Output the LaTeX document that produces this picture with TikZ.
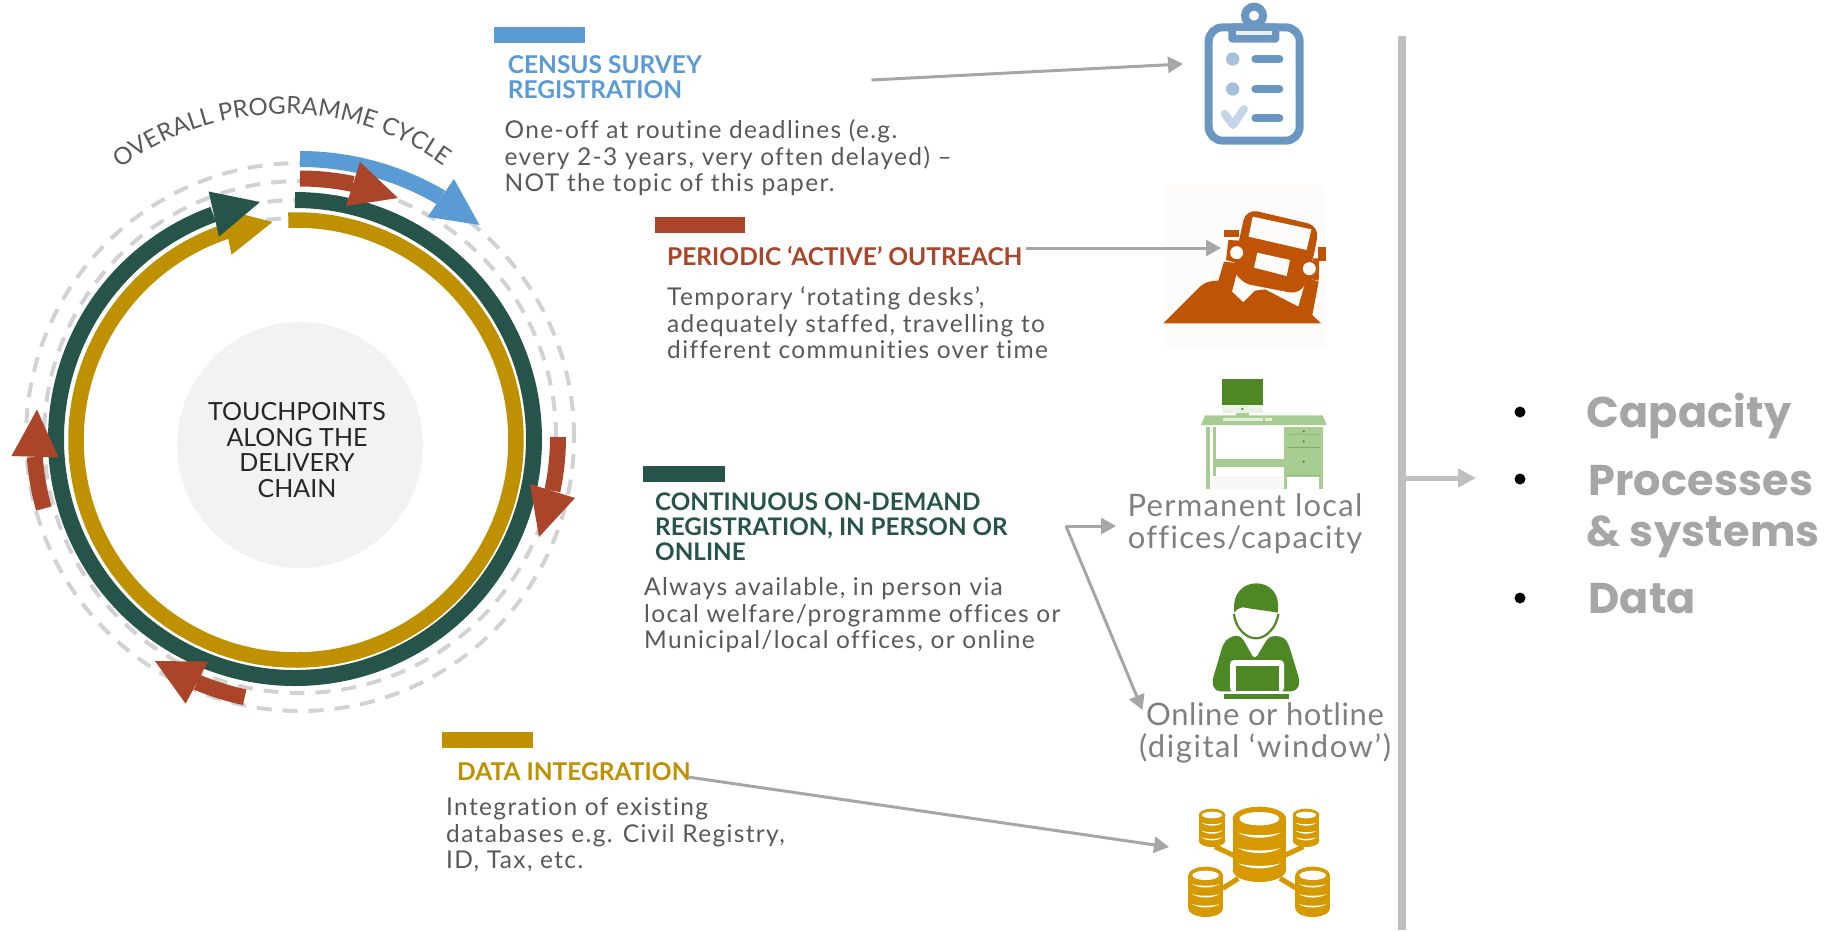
\documentclass[tikz,border=0pt]{standalone}
\usepackage{fontspec}
\usetikzlibrary{arrows.meta,decorations.text}
\setmainfont{Lato}[Ligatures=NoCommon]
\newfontfamily\bodyfont{Lato}[LetterSpace=5.5,Ligatures=NoCommon]
\newfontfamily\labelfont{Lato}[LetterSpace=4,Ligatures=NoCommon]
\newfontfamily\labelthin{Lato}[LetterSpace=2,Ligatures=NoCommon]
\newfontfamily\labelwide{Lato}[LetterSpace=5,Ligatures=NoCommon]
\newfontfamily\popfont{Poppins Bold}[LetterSpace=0.5]
\definecolor{cblue}{HTML}{5B9BD5}
\definecolor{cred}{HTML}{AA4529}
\definecolor{cgreen}{HTML}{27544A}
\definecolor{cgold}{HTML}{BF9000}
\definecolor{cdash}{HTML}{D2D2D2}
\definecolor{cbody}{HTML}{595959}
\definecolor{clabel}{HTML}{7F7F7F}
\definecolor{carrow}{HTML}{A6A6A6}
\definecolor{cbar}{HTML}{BFBFBF}
\definecolor{clipblue}{HTML}{6A97C1}
\definecolor{truckor}{HTML}{BF5306}
\definecolor{truckbg}{HTML}{FDFCFB}
\definecolor{darkg}{HTML}{4E8825}
\definecolor{deskg}{HTML}{A8CD93}
\definecolor{dbgold}{HTML}{D69A00}
\tikzset{
  ringdash/.style={draw=cdash,line width=4pt,dash pattern=on 15pt off 11pt},
  heading/.style={anchor=base west,inner sep=0pt,font=\bfseries\fontsize{24.5}{24.5}\selectfont},
  headingg/.style={heading,text=cgreen,font=\bfseries\fontsize{24.2}{24.2}\selectfont},
  bodytext/.style={anchor=base west,inner sep=0pt,text=cbody,font=\bodyfont\fontsize{24.5}{24.5}\selectfont},
  iconlabel/.style={anchor=base,inner sep=0pt,text=clabel,font=\labelfont\fontsize{31}{31}\selectfont},
  centertext/.style={anchor=base,inner sep=0pt,text=black!85,font=\fontsize{25}{25}\selectfont},
  bigtext/.style={anchor=base west,inner sep=0pt,text=carrow,font=\popfont\fontsize{43}{43}\selectfont},
  conn/.style={draw=carrow,line width=3pt,-{Triangle[length=15pt,width=16pt]}},
  rightarrow/.style={draw=cbar,line width=5pt,-{Triangle[length=18pt,width=18pt]}},
  bulletdot/.style={circle,fill=black,inner sep=0pt,minimum size=11pt},
}
% centre x, centre y, radius, start, end, colour, width
\newcommand\ringarc[7]{\draw[#6,line width=#7pt] (#1,#2) ++(#4:#3pt) arc[start angle=#4,end angle=#5,radius=#3pt];}
% database stack
\newcommand\dbstack[9]{%
  \fill[dbgold] (#1,#2) ellipse[x radius=#3,y radius=#4];
  \fill[dbgold] (#1-#3,#2) rectangle (#1+#3,#8);
  \fill[dbgold] (#1,#8) ellipse[x radius=#3,y radius=#4];
  \fill[white] (#1,#2) ellipse[x radius=#5,y radius=#6];
  \foreach \yy in {#7}{%
    \fill[white] (#1-#3*0.8,\yy) .. controls (#1-#3*0.4,\yy+#9) and (#1+#3*0.4,\yy+#9) .. (#1+#3*0.8,\yy)
      .. controls (#1+#3*0.4,\yy+#9*2) and (#1-#3*0.4,\yy+#9*2) .. cycle;
  }}
\begin{document}
\begin{tikzpicture}[x=1pt,y=-1pt]
\useasboundingbox (0,0) rectangle (1835,930);
% dashed rings
\draw[ringdash] (300,437) circle[radius=274pt];
\draw[ringdash] (300,437) circle[radius=256pt];
\draw[ringdash] (297,439) circle[radius=239pt];
\draw[ringdash] (296,440) circle[radius=222pt];
% centre disc
\node[circle,fill=black!5,minimum size=246pt,inner sep=0pt] (hub) at (300,445) {};
\node[centertext] (t1) at (297,420) {TOUCHPOINTS};
\node[centertext] (t2) at (297,446) {ALONG THE};
\node[centertext] (t3) at (297,471) {DELIVERY};
\node[centertext] (t4) at (297,497) {CHAIN};
% gold ring
\fill[cgold] (272.5,222) -- (231.5,254.7) -- (222,209) -- cycle;
\ringarc{296}{440}{220}{92}{-251.9}{cgold}{15.5}
% green ring
\ringarc{295}{439}{239}{90}{-250}{cgreen}{16}
\fill[cgreen] (260,202) -- (219,236.6) -- (208.6,191.5) -- cycle;
% blue arc
\ringarc{300}{437}{278}{90}{59.5}{cblue}{16}
\fill[cblue] (479.5,225) -- (427.5,216.8) -- (454,179) -- cycle;
% red arcs
\ringarc{300}{437}{258.5}{90}{78.2}{cred}{16}
\fill[cred] (398,198) -- (346,206) -- (360,162) -- cycle;
\ringarc{300}{437}{258}{0}{-12}{cred}{16}
\fill[cred] (539,537) -- (530,484) -- (575,498) -- cycle;
\ringarc{300}{437}{266}{258}{247.2}{cred}{16}
\fill[cred] (155,661) -- (208,661.6) -- (185.6,703.7) -- cycle;
\ringarc{300}{437}{266}{195.6}{184.3}{cred}{16}
\fill[cred] (37,409.5) -- (58.5,457.5) -- (11.5,456) -- cycle;
% curved title
\path[decorate,decoration={text along path,text align={fit to path},
   text={|\fontsize{24}{24}\selectfont\color{cbody}|OVERALL PROGRAMME CYCLE}}]
   (284,386) ++(127:272pt) arc[start angle=127,end angle=54,radius=272pt];
% bars
\fill[cblue] (494,27) rectangle (584.5,43);
\fill[cred] (654.6,217) rectangle (744.5,233);
\fill[cgreen] (643,466) rectangle (725,482);
\fill[cgold] (442,732) rectangle (533,748);
% headings
\node[heading,text=cblue] (h1a) at (507.6,73) {CENSUS SURVEY};
\node[heading,text=cblue] (h1b) at (507.6,98) {REGISTRATION};
\node[heading,text=cred] (h2) at (667,265) {PERIODIC ‘ACTIVE’ OUTREACH};
\node[headingg] (h3a) at (655,510) {CONTINUOUS ON-DEMAND};
\node[headingg] (h3b) at (655,535) {REGISTRATION, IN PERSON OR};
\node[headingg] (h3c) at (655,560) {ONLINE};
\node[heading,text=cgold] (h4) at (457,780) {DATA INTEGRATION};
% bodies
\node[bodytext] (b1a) at (504.5,138) {One-off at routine deadlines (e.g.};
\node[bodytext] (b1b) at (504.5,165.5) {every 2-3 years, very often delayed) –};
\node[bodytext] (b1c) at (504.5,191.7) {NOT the topic of this paper.};
\node[bodytext] (b2a) at (667,305.7) {Temporary ‘rotating desks’,};
\node[bodytext] (b2b) at (667,332.7) {adequately staffed, travelling to};
\node[bodytext] (b2c) at (667,358) {different communities over time};
\node[bodytext] (b3a) at (644,595) {Always available, in person via};
\node[bodytext] (b3b) at (644,622) {local welfare/programme offices or};
\node[bodytext] (b3c) at (644,648) {Municipal/local offices, or online};
\node[bodytext] (b4a) at (446,815) {Integration of existing};
\node[bodytext] (b4b) at (446,842) {databases e.g. Civil Registry,};
\node[bodytext] (b4c) at (446,868) {ID, Tax, etc.};
% icon labels
\node[iconlabel] (l1a) at (1245,516.7) {Permanent local};
\node[iconlabel] (l1b) at (1245,548) {offices/capacity};
\node[iconlabel,font=\labelthin\fontsize{31}{31}\selectfont] (l2a) at (1265,725) {Online or hotline};
\node[iconlabel,font=\labelwide\fontsize{31}{31}\selectfont] (l2b) at (1265,757) {(digital ‘window’)};
% right side
\fill[cbar] (1398,36) rectangle (1406,930);
\coordinate (r0) at (1406,478); \coordinate (r1) at (1476,478);
\draw[rightarrow] (r0) -- (r1);
\node[bulletdot] (d1) at (1520,412) {};
\node[bulletdot] (d2) at (1520,479) {};
\node[bulletdot] (d3) at (1520,598) {};
\node[bigtext] (c1) at (1586,427) {Capacity};
\node[bigtext] (c2) at (1588,495) {Processes};
\node[bigtext] (c3) at (1586,546) {\&~systems};
\node[bigtext] (c4) at (1588,613) {Data};
% clipboard icon
\begin{scope}[shift={(1150,0)},x=0.33333pt,y=-0.33333pt]
  \draw[clipblue,line width=8pt] (312,47) circle[radius=9pt];
  \draw[clipblue,line width=8pt,rounded corners=14pt] (176,82) rectangle (449,422);
  \fill[clipblue,rounded corners=4pt] (235,70) rectangle (388,128);
  \fill[white!85!clipblue] (258,93) rectangle (365,105);
  \fill[clipblue!60!white] (248,177) circle[radius=6.7pt];
  \fill[clipblue!60!white] (248,267) circle[radius=6.7pt];
  \draw[clipblue!40!white,line width=8pt,line cap=round,line join=round] (224,342) -- (249,375) -- (282,327);
  \foreach \yy in {177,267,355}{\draw[clipblue,line width=8pt,line cap=round] (316,\yy) -- (388,\yy);}
\end{scope}
% truck icon
\begin{scope}[shift={(1150,0)},x=0.33333pt,y=-0.33333pt]
  \fill[truckbg] (40,555) rectangle (528,1043);
  \fill[truckor] (40,970) -- (150,860) .. controls (165,845) and (185,842) .. (205,842) -- (222,785) -- (268,790) -- (246,875) -- (280,907) -- (315,872) -- (345,868) -- (445,920) -- (470,832) -- (506,845) -- (487,945) -- (513,970) -- cycle;
  \fill[truckor,rounded corners=12pt] (288,626) -- (508,678) -- (490,775) -- (455,884) -- (268,848) -- (250,800) -- cycle;
  \fill[truckor] (223,689) rectangle (268,710);
  \fill[truckor] (505,742) rectangle (528,783);
  \fill[truckor] (235,720) -- (272,722) -- (262,790) -- (228,780) -- cycle;
  \fill[truckor] (490,775) -- (508,775) -- (506,842) -- (470,835) -- cycle;
  \fill[truckbg] (308,650) -- (484,688) -- (470,750) -- (296,710) -- cycle;
  \fill[truckbg] (322,758) -- (420,780) -- (410,828) -- (312,803) -- cycle;
  \fill[truckbg] (260,758) circle[radius=6.5pt];
  \fill[truckbg] (478,806) circle[radius=6.5pt];
\end{scope}
% desk icon
\begin{scope}[shift={(1150,370)},x=0.33333pt,y=-0.33333pt]
  \fill[darkg] (216,28) rectangle (340,105);
  \fill[darkg!12!white] (216,105) rectangle (340,128);
  \fill[darkg] (277,117) circle[radius=1.2pt];
  \fill[deskg] (258,128) rectangle (298,138);
  \fill[deskg] (165,136) -- (518,136) -- (530,165) -- (153,165) -- cycle;
  \fill[white!70!deskg] (218,145) rectangle (340,153);
  \fill[white!70!deskg] (345,145) rectangle (365,153);
  \fill[deskg] (167,170) rectangle (180,358);
  \fill[deskg] (188,170) rectangle (198,318);
  \fill[deskg] (198,267) rectangle (402,290);
  \fill[deskg] (402,170) rectangle (520,320);
  \fill[deskg] (402,320) rectangle (412,358);
  \fill[deskg] (507,320) rectangle (520,358);
  \fill[black!3] (198,318) -- (402,318) -- (402,358) -- (180,358) -- cycle;
  \draw[darkg!60!white,line width=0.8pt] (412,193) -- (510,193);
  \draw[darkg!70!white,line width=0.8pt] (412,232) -- (510,232);
  \draw[darkg!60!white,line width=0.8pt] (412,315) -- (510,315);
  \foreach \yy in {184,214,275}{\fill[darkg] (461,\yy) circle[radius=1.2pt];}
\end{scope}
% person icon
\begin{scope}[shift={(1150,370)},x=0.33333pt,y=-0.33333pt]
  \fill[darkg,rounded corners=5pt] (240,800) -- (272,795) -- (314,870) -- (358,797) -- (400,800) -- (415,820) -- (450,935) -- (440,964) -- (195,964) -- (186,935) -- (220,820) -- cycle;
  \fill[white,rounded corners=4pt] (240,870) rectangle (402,966);
  \fill[darkg] (257,887) rectangle (386,964);
  \fill[darkg] (221,972) rectangle (416,986);
  \fill[darkg] (253,728) .. controls (245,665) and (285,640) .. (318,640) .. controls (355,640) and (392,665) .. (383,728) .. controls (350,722) and (310,718) .. (280,712) .. controls (268,712) and (258,720) .. (253,728) -- cycle;
  \draw[darkg,line width=2.2pt] (252,732) .. controls (255,770) and (285,805) .. (318,805) .. controls (350,805) and (380,770) .. (385,732);
\end{scope}
% database icon
\begin{scope}[shift={(1150,730)},x=0.33333pt,y=-0.33333pt]
  \draw[dbgold,line width=5pt] (195,350) -- (255,378);
  \draw[dbgold,line width=5pt] (400,378) -- (460,350);
  \draw[dbgold,line width=5pt] (218,475) -- (265,445);
  \draw[dbgold,line width=5pt] (390,445) -- (440,475);
  \dbstack{328}{266}{80}{36}{60}{20}{308,354,400}{420}{10}
  \dbstack{186}{255}{40}{19}{30}{10}{278,302,322}{332}{6}
  \dbstack{468}{255}{40}{19}{30}{10}{278,302,322}{332}{6}
  \dbstack{167}{436}{52}{26}{40}{14}{462,492,522}{535}{7}
  \dbstack{488}{436}{52}{26}{40}{14}{462,492,522}{535}{7}
\end{scope}
% connectors
\coordinate (s1) at (871.5,80); \coordinate (e1) at (1183,64);
\coordinate (s2) at (1026,248); \coordinate (e2) at (1221,248);
\coordinate (s3) at (1066,526); \coordinate (e3) at (1116,526); \coordinate (e4) at (1142.5,710);
\coordinate (s5) at (688,777); \coordinate (e5) at (1169,847);
\draw[conn] (s1) -- (e1);
\draw[conn] (s2) -- (e2);
\draw[conn] (s3) -- (e3);
\draw[conn] (s3) -- (e4);
\draw[conn] (s5) -- (e5);
\end{tikzpicture}
\end{document}
